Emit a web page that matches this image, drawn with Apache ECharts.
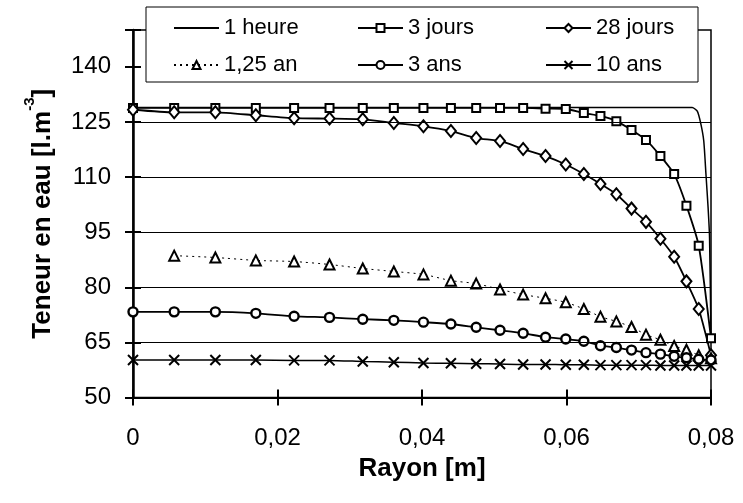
<!DOCTYPE html>
<html>
<head>
<meta charset="utf-8">
<script src="https://cdn.jsdelivr.net/npm/echarts@6/dist/echarts.min.js"></script>
<style>
html,body{margin:0;padding:0;background:#fff;}
#chart{width:743px;height:503px;}
</style>
</head>
<body>
<div id="chart"></div>
<script>
// ---- data ----
const radius = [0, 0.0057, 0.0114, 0.0170, 0.0223, 0.0272, 0.0318, 0.0361, 0.0402, 0.0440, 0.0475, 0.0508, 0.0540, 0.0571, 0.0599, 0.0624, 0.0647, 0.0669, 0.0690, 0.0710, 0.0730, 0.0749, 0.0766, 0.0783, 0.0800];

const heure1X = [0, 0.0774, 0.0781, 0.0786, 0.0790, 0.0793, 0.0796, 0.0798, 0.0800];
const heure1Y = [128.9, 128.9, 127.9, 124.4, 119.8, 110.8, 101.6, 93.5, 65.6];

const jours3 = [128.8, 128.8, 128.8, 128.8, 128.8, 128.8, 128.8, 128.8, 128.8, 128.8, 128.8, 128.8, 128.8, 128.6, 128.5, 127.4, 126.6, 125.2, 122.8, 120.1, 115.7, 110.8, 102.2, 91.3, 66.1];
const jours28 = [128.3, 127.6, 127.6, 126.8, 126.0, 125.9, 125.7, 124.7, 123.8, 122.5, 120.6, 119.8, 117.6, 115.7, 113.4, 110.8, 108.1, 105.3, 101.4, 97.8, 93.2, 88.3, 81.6, 74.1, 61.5];
const an125 = [null, 88.6, 88.1, 87.3, 87.0, 86.2, 85.1, 84.3, 83.5, 81.8, 81.0, 79.4, 78.0, 77.0, 75.9, 74.1, 72.0, 70.7, 69.2, 67.1, 65.7, 64.0, 63.0, 61.5, 60.7];
const ans3 = [73.3, 73.3, 73.3, 72.9, 72.1, 71.8, 71.3, 71.0, 70.5, 70.0, 69.1, 68.3, 67.5, 66.4, 65.9, 65.3, 64.1, 63.6, 62.9, 62.2, 61.8, 61.2, 60.8, 60.4, 60.2];
const ans10 = [60.2, 60.2, 60.2, 60.2, 60.1, 60.1, 59.8, 59.6, 59.4, 59.3, 59.2, 59.1, 59.0, 59.0, 58.9, 58.9, 58.8, 58.8, 58.8, 58.8, 58.7, 58.7, 58.7, 58.7, 58.7];

const seriesNames = ['1 heure', '3 jours', '28 jours', '1,25 an', '3 ans', '10 ans'];
const xTickLabels = ['0', '0,02', '0,04', '0,06', '0,08'];
const yTickLabels = ['50', '65', '80', '95', '110', '125', '140'];
const gridValues = [65, 80, 95, 110, 125];

// ---- helpers ----
const FONT = '"Liberation Sans", Arial, Helvetica, sans-serif';
function pairs(xs, ys) { return xs.map((x, i) => [x, ys[i]]); }
const hollow = { color: '#fff', borderColor: '#000', borderWidth: 2 };
const crossPath = 'path://M0,0L10,10M10,0L0,10';

const chart = echarts.init(document.getElementById('chart'), null, { renderer: 'canvas' });

const legendBase = {
  orient: 'vertical', top: 15, padding: 0, itemGap: 11,
  itemWidth: 45, itemHeight: 10, z: 10,
  textStyle: { fontFamily: FONT, fontSize: 22, color: '#000', lineHeight: 26 },
  inactiveColor: '#000'
};

const option = {
  animation: false,
  backgroundColor: '#fff',
  grid: { left: 133, right: 32, top: 30, bottom: 105.5, show: true, borderColor: '#000', borderWidth: 1.5, backgroundColor: 'transparent' },
  graphic: [{
    type: 'rect', z: 5,
    shape: { x: 146, y: 7, width: 552, height: 75 },
    style: { fill: '#fff', stroke: '#000', lineWidth: 1 }
  }],
  legend: [
    Object.assign({}, legendBase, { left: 173, data: [
      { name: seriesNames[0], itemStyle: { color: 'transparent', borderColor: 'transparent', borderWidth: 0 } },
      seriesNames[3]] }),
    Object.assign({}, legendBase, { left: 357, data: [seriesNames[1], seriesNames[4]] }),
    Object.assign({}, legendBase, { left: 545, data: [seriesNames[2], seriesNames[5]] })
  ],
  xAxis: [{
    type: 'value', min: 0, max: 0.08, interval: 0.02,
    name: 'Rayon [m]', nameLocation: 'middle', nameGap: 51,
    nameTextStyle: { fontFamily: FONT, fontSize: 26, fontWeight: 'bold', color: '#000' },
    axisLine: { show: true, lineStyle: { color: '#000', width: 2 } },
    axisTick: { show: true, length: 8, lineStyle: { color: '#000', width: 2 } },
    axisLabel: { margin: 29, fontFamily: FONT, fontSize: 24, color: '#000',
      formatter: (v, i) => xTickLabels[i] !== undefined ? xTickLabels[i] : '' },
    splitLine: { show: false }
  }, {
    type: 'value', min: 0, max: 0.08, interval: 0.02, position: 'bottom',
    axisLine: { show: false },
    axisTick: { show: true, inside: true, length: 8, lineStyle: { color: '#000', width: 2 } },
    axisLabel: { show: false }, splitLine: { show: false }
  }],
  yAxis: [{
    type: 'value', min: 50, max: 150, interval: 15,
    name: '{t|Teneur en eau [l.m}{s|-3}{t|]}', nameLocation: 'middle', nameGap: 77,
    nameTextStyle: {
      rich: {
        t: { fontFamily: FONT, fontSize: 26, fontWeight: 'bold', color: '#000', lineHeight: 34, verticalAlign: 'bottom' },
        s: { fontFamily: FONT, fontSize: 15, fontWeight: 'bold', color: '#000', lineHeight: 34, verticalAlign: 'top' }
      }
    },
    axisLine: { show: true, lineStyle: { color: '#000', width: 2.5 } },
    axisTick: { show: true, length: 8, lineStyle: { color: '#000', width: 2 } },
    axisLabel: { margin: 22, fontFamily: FONT, fontSize: 24, color: '#000',
      formatter: (v, i) => yTickLabels[i] !== undefined ? yTickLabels[i] : '' },
    splitLine: { show: false }
  }, {
    type: 'value', min: 50, max: 150, interval: 15, position: 'left',
    axisLine: { show: false },
    axisTick: { show: true, inside: true, length: 8, lineStyle: { color: '#000', width: 2 } },
    axisLabel: { show: false }, splitLine: { show: false }
  }],
  series: [
    {
      name: seriesNames[0], type: 'line', data: pairs(heure1X, heure1Y),
      symbol: 'none', showSymbol: false, smooth: 0.2,
      lineStyle: { color: '#000', width: 1.5 }, itemStyle: { color: '#000' },
      markLine: {
        silent: true, symbol: 'none', label: { show: false },
        lineStyle: { color: '#000', width: 1.2, type: 'solid' },
        data: gridValues.map(v => ({ yAxis: v }))
      }
    },
    {
      name: seriesNames[1], type: 'line', data: pairs(radius, jours3),
      symbol: 'rect', symbolSize: 8, smooth: 0.2,
      lineStyle: { color: '#000', width: 1.8 }, itemStyle: hollow
    },
    {
      name: seriesNames[2], type: 'line', data: pairs(radius, jours28),
      symbol: 'diamond', symbolSize: [10, 12], smooth: 0.2,
      lineStyle: { color: '#000', width: 1.8 }, itemStyle: hollow
    },
    {
      name: seriesNames[3], type: 'line', data: pairs(radius, an125),
      symbol: 'triangle', symbolSize: 10, smooth: 0.2, connectNulls: false,
      lineStyle: { color: '#000', width: 1, type: [2, 4] }, itemStyle: hollow
    },
    {
      name: seriesNames[4], type: 'line', data: pairs(radius, ans3),
      symbol: 'circle', symbolSize: 9, smooth: 0.2,
      lineStyle: { color: '#000', width: 1.8 }, itemStyle: { color: '#fff', borderColor: '#000', borderWidth: 2.4 }
    },
    {
      name: seriesNames[5], type: 'line', data: pairs(radius, ans10),
      symbol: crossPath, symbolSize: 10, smooth: 0.2,
      lineStyle: { color: '#000', width: 1.5 }, itemStyle: { color: 'none', borderColor: '#000', borderWidth: 2 }
    }
  ]
};
chart.setOption(option);
</script>
</body>
</html>
